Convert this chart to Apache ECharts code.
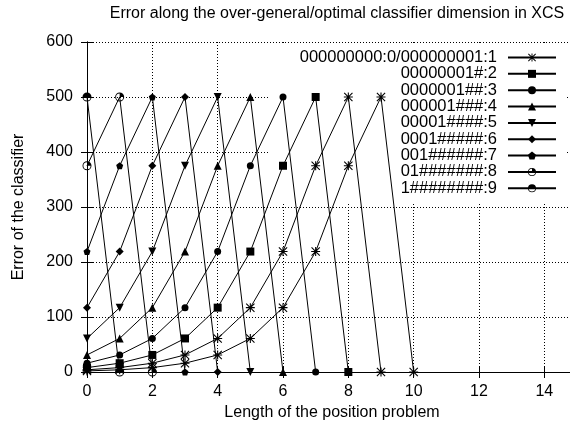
<!DOCTYPE html>
<html>
<head>
<meta charset="utf-8">
<script src="https://cdn.jsdelivr.net/npm/echarts@6/dist/echarts.min.js"></script>
<style>
html,body{margin:0;padding:0;background:#fff;}
#chart{width:570px;height:425px;}
</style>
</head>
<body>
<div id="chart"></div>
<script>
// ---- data ----
const xPositions = [0, 1, 2, 3, 4, 5, 6, 7, 8, 9, 10];
const seriesNames = [
  '000000000:0/000000001:1',
  '00000001#:2',
  '0000001##:3',
  '000001###:4',
  '00001####:5',
  '0001#####:6',
  '001######:7',
  '01#######:8',
  '1########:9'
];
// error values, starting at position 0
const err1a = [4, 8, 16, 31, 61, 117, 219, 375, 500, 0];
const err1b = [2, 4, 8, 16, 31, 61, 117, 219, 375, 500, 0];
const err2 = [8, 16, 31, 61, 117, 219, 375, 500, 0];
const err3 = [16, 31, 61, 117, 219, 375, 500, 0];
const err4 = [31, 61, 117, 219, 375, 500, 0];
const err5 = [61, 117, 219, 375, 500, 0];
const err6 = [117, 219, 375, 500, 0];
const err7 = [219, 375, 500, 0];
const err8 = [375, 500, 0];
const err9 = [500, 0];
const xTicks = [0, 2, 4, 6, 8, 10, 12, 14];
const yTicks = [0, 100, 200, 300, 400, 500, 600];

// ---- symbols ----
const SYM_STAR = 'path://M8.8 0L11.2 0L11.2 20L8.8 20Z M0 8.8L20 8.8L20 11.2L0 11.2Z M0 1.7L1.7 0L20 18.3L18.3 20Z M18.3 0L20 1.7L1.7 20L0 18.3Z';
const SYM_TRI_DOWN = 'path://M0 0L20 0L10 17Z';
const SYM_PENT = 'path://M10 0L20 7.6L16.2 20L3.8 20L0 7.6Z';
const RING = 'M0 10A10 10 0 1 1 20 10A10 10 0 1 1 0 10Z M2 10A8 8 0 1 0 18 10A8 8 0 1 0 2 10Z';
const SYM_C1 = 'path://' + RING + ' M10 10L10 2A8 8 0 0 1 18 10Z';
const SYM_C3 = 'path://' + RING + ' M2 10A8 8 0 0 1 18 10Z';

const FONT = 'Liberation Sans, Arial, Helvetica, sans-serif';
const GRID = { left: 87, top: 42, width: 490, height: 330 };

function pairs(arr) {
  return arr.map((v, i) => [xPositions[i], v]);
}

function mk(name, arr, symbol, size) {
  return {
    type: 'line',
    name: name,
    data: pairs(arr),
    symbol: symbol,
    symbolSize: size,
    showSymbol: true,
    lineStyle: { color: '#000', width: 1 },
    itemStyle: { color: '#000' },
    emphasis: { disabled: true },
    z: 2
  };
}

const series = [
  mk(seriesNames[0], err1a, SYM_STAR, 9),
  mk(seriesNames[1], err2, 'rect', 8),
  mk(seriesNames[2], err3, 'circle', 7),
  mk(seriesNames[3], err4, 'triangle', 8),
  mk(seriesNames[4], err5, SYM_TRI_DOWN, 8),
  mk(seriesNames[5], err6, 'diamond', 8),
  mk(seriesNames[6], err7, SYM_PENT, 7),
  mk(seriesNames[7], err8, SYM_C1, 9),
  mk(seriesNames[8], err9, SYM_C3, 9),
  mk(seriesNames[0], err1b, SYM_STAR, 9)
];

const chart = echarts.init(document.getElementById('chart'), null, { renderer: 'canvas' });
const axisLineStyle = { show: true, lineStyle: { color: '#000', width: 1 } };
const axisTickStyle = { show: true, inside: true, length: 6, lineStyle: { color: '#000' } };
chart.setOption({
  animation: false,
  backgroundColor: '#fff',
  textStyle: { fontFamily: FONT, color: '#000' },
  title: {
    text: 'Error along the over-general/optimal classifier dimension in XCS',
    left: GRID.left + GRID.width / 2,
    textAlign: 'center',
    top: 1,
    textStyle: { fontFamily: FONT, fontSize: 16, fontWeight: 'normal', color: '#000' }
  },
  grid: Object.assign({ containLabel: false, outerBoundsMode: 'none' }, GRID),
  legend: {
    data: seriesNames,
    orient: 'vertical',
    align: 'right',
    right: 13,
    top: 49,
    padding: 0,
    itemWidth: 48,
    itemHeight: 10,
    itemGap: -0.65,
    selectedMode: false,
    textStyle: { fontFamily: FONT, fontSize: 16.5, color: '#000', lineHeight: 16, padding: [0, 6, 0, 0] }
  },
  graphic: [{
    type: 'rect',
    z: 1,
    shape: { x: 268, y: 43, width: 298, height: 161 },
    style: { fill: '#fff' },
    silent: true
  }],
  xAxis: [{
    type: 'value',
    min: 0, max: 15, interval: 2,
    position: 'bottom',
    name: 'Length of the position problem',
    nameLocation: 'middle',
    nameGap: 33,
    nameTextStyle: { fontFamily: FONT, fontSize: 16, color: '#000' },
    axisLine: axisLineStyle,
    axisTick: axisTickStyle,
    axisLabel: { fontFamily: FONT, fontSize: 16, color: '#000', margin: 12, showMaxLabel: false,
      formatter: v => (xTicks.indexOf(v) >= 0 ? String(v) : '') },
    splitLine: { show: true, lineStyle: { color: '#000', type: [1, 2], width: 1 } },
    z: 0
  }, {
    type: 'value',
    min: 0, max: 15, interval: 2,
    position: 'top',
    axisLine: axisLineStyle,
    axisTick: axisTickStyle,
    axisLabel: { show: false },
    splitLine: { show: false },
    z: 3
  }],
  yAxis: [{
    type: 'value',
    min: 0, max: 600, interval: 100,
    position: 'left',
    name: 'Error of the classifier',
    nameLocation: 'middle',
    nameGap: 60,
    nameTextStyle: { fontFamily: FONT, fontSize: 16, color: '#000' },
    axisLine: axisLineStyle,
    axisTick: axisTickStyle,
    axisLabel: { fontFamily: FONT, fontSize: 16, color: '#000', margin: 14,
      formatter: v => (yTicks.indexOf(v) >= 0 ? String(v) : '') },
    splitLine: { show: true, lineStyle: { color: '#000', type: [1, 2], width: 1 } },
    z: 0
  }, {
    type: 'value',
    min: 0, max: 600, interval: 100,
    position: 'right',
    axisLine: axisLineStyle,
    axisTick: axisTickStyle,
    axisLabel: { show: false },
    splitLine: { show: false },
    z: 3
  }],
  series: series
});
</script>
</body>
</html>
